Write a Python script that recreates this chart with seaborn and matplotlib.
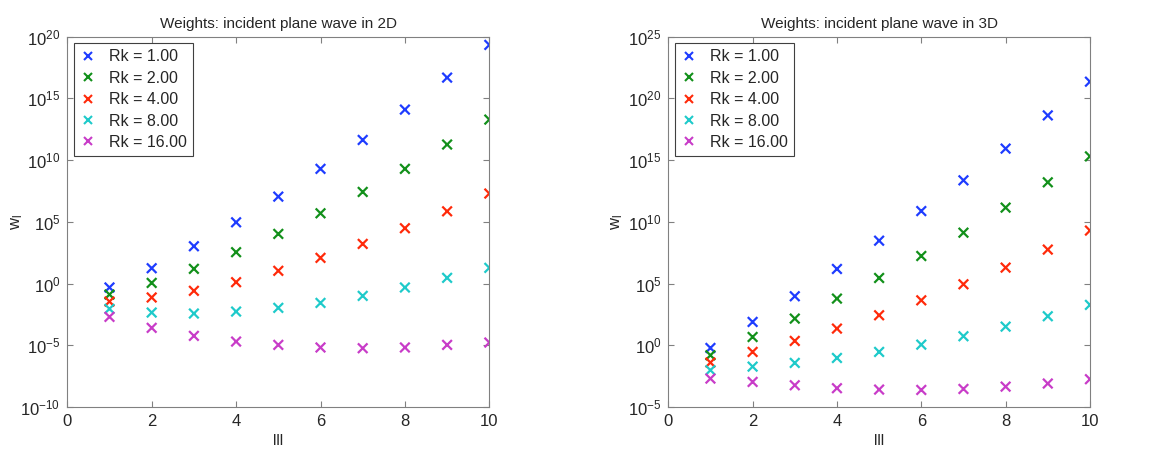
import numpy as np
import pandas as pd
import seaborn as sns
import matplotlib.pyplot as plt
from matplotlib.ticker import NullLocator

l_vals = [1, 2, 3, 4, 5, 6, 7, 8, 9, 10]
rk_labels = ['Rk = 1.00', 'Rk = 2.00', 'Rk = 4.00', 'Rk = 8.00', 'Rk = 16.00']

# log10 of the weights
w2d_rk1 = [-0.32, 1.24, 3.02, 4.96, 7.04, 9.29, 11.63, 14.09, 16.68, 19.33]
w2d_rk2 = [-0.89, 0.05, 1.19, 2.54, 4.02, 5.69, 7.42, 9.29, 11.26, 13.28]
w2d_rk4 = [-1.46, -1.13, -0.59, 0.11, 1.03, 2.08, 3.21, 4.48, 5.85, 7.29]
w2d_rk8 = [-2.05, -2.35, -2.43, -2.27, -1.97, -1.57, -1.00, -0.32, 0.46, 1.27]
w2d_rk16 = [-2.70, -3.59, -4.24, -4.70, -4.97, -5.18, -5.24, -5.18, -4.97, -4.78]

w3d_rk1 = [-0.22, 1.89, 3.97, 6.18, 8.47, 10.87, 13.36, 15.93, 18.62, 21.35]
w3d_rk2 = [-0.81, 0.67, 2.16, 3.78, 5.45, 7.23, 9.12, 11.15, 13.20, 15.30]
w3d_rk4 = [-1.40, -0.54, 0.35, 1.35, 2.43, 3.64, 4.94, 6.29, 7.75, 9.29]
w3d_rk8 = [-2.02, -1.73, -1.43, -1.03, -0.54, 0.05, 0.73, 1.51, 2.35, 3.27]
w3d_rk16 = [-2.70, -2.97, -3.24, -3.48, -3.59, -3.62, -3.54, -3.35, -3.10, -2.75]

colors = ['#1e3cff', '#12901a', '#ff2a0a', '#1ecaca', '#c83cc8']


def to_frame(series):
    rows = []
    for lab, vals in zip(rk_labels, series):
        for l, v in zip(l_vals, vals):
            rows.append({'l': l, 'w': 10.0 ** v, 'Rk': lab})
    return pd.DataFrame(rows)


df2d = to_frame([w2d_rk1, w2d_rk2, w2d_rk4, w2d_rk8, w2d_rk16])
df3d = to_frame([w3d_rk1, w3d_rk2, w3d_rk4, w3d_rk8, w3d_rk16])

sns.set_style('ticks')
plt.rcParams['font.family'] = ['Liberation Sans', 'DejaVu Sans']
plt.rcParams['mathtext.default'] = 'regular'
plt.rcParams['axes.unicode_minus'] = False

fig = plt.figure(figsize=(11.62, 4.5), dpi=100)
ax1 = fig.add_axes([0.0579, 0.0956, 0.3632, 0.823])
ax2 = fig.add_axes([0.5751, 0.0956, 0.3629, 0.823])

panels = [
    (ax1, df2d, 'Weights: incident plane wave in 2D', (1e-10, 1e20), -0.10),
    (ax2, df3d, 'Weights: incident plane wave in 3D', (1e-5, 1e25), -0.102),
]

for ax, df, title, ylim, ylab_x in panels:
    sns.scatterplot(data=df, x='l', y='w', hue='Rk', palette=colors,
                    hue_order=rk_labels, marker='x', s=48, linewidth=1.6,
                    ax=ax, legend=False)
    ax.set_yscale('log')
    ax.set_xlim(0, 10)
    ax.set_ylim(*ylim)
    ax.set_xticks([0, 2, 4, 6, 8, 10])
    lo, hi = int(np.log10(ylim[0])), int(np.log10(ylim[1]))
    ax.set_yticks([10.0 ** e for e in range(lo, hi + 1, 5)])
    ax.yaxis.set_minor_locator(NullLocator())
    ax.tick_params(direction='in', top=True, right=True, labelsize=12,
                   length=4, color='#808080', pad=5)
    for sp in ax.spines.values():
        sp.set_color('#808080')
        sp.set_visible(True)
    ax.set_title(title, fontsize=11)
    ax.set_xlabel('lll', fontsize=11, labelpad=4)
    ax.set_ylabel('w$_l$', fontsize=12)
    ax.yaxis.set_label_coords(ylab_x, 0.5)
    handles = [plt.Line2D([], [], ls='none', marker='x', color=c, ms=6, mew=1.5)
               for c in colors]
    leg = ax.legend(handles, rk_labels, loc='upper left', fontsize=11.5,
                    fancybox=False, framealpha=1, edgecolor='#404040',
                    borderaxespad=0.4, handlelength=1.0, handletextpad=0.8,
                    labelspacing=0.4, borderpad=0.4)
    leg.get_frame().set_linewidth(0.8)

fig.savefig('out.png', dpi=100)
